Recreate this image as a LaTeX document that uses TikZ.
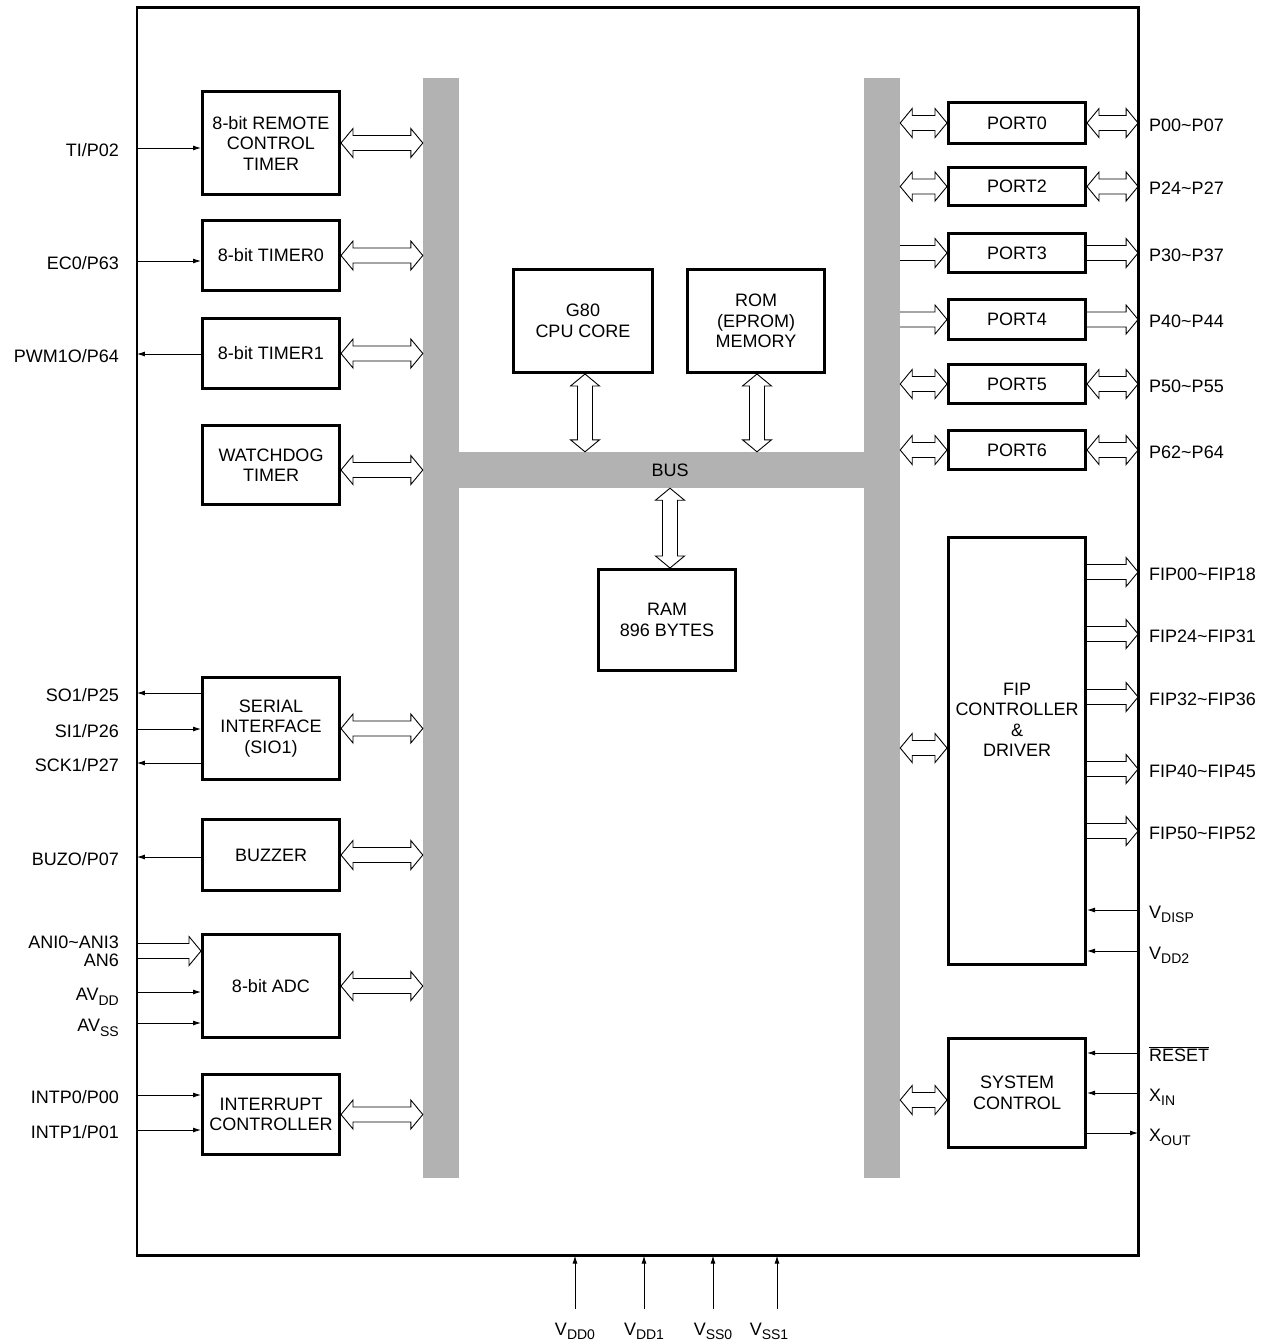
\documentclass[tikz,border=0pt]{standalone}
\usepackage{fontspec}
\setmainfont{Liberation Sans}
\usetikzlibrary{calc,arrows.meta}
\definecolor{busgray}{RGB}{178,178,178}
\newcommand\lowtxt[1]{\raisebox{-0.5ex}{\fontsize{14}{14}\selectfont #1}}

\begin{document}
\begin{tikzpicture}[x=1pt,y=-1pt,line join=miter,
	every node/.style={font=\fontsize{18}{20.5}\selectfont},
	blk/.style={draw,line width=2.7pt,align=center,inner sep=0pt,minimum width=137.3pt},
	busbar/.style={fill=busgray,inner sep=0pt},
	sig/.style={line width=0.9pt,-{Latex[length=8pt,width=5pt]}},
	lpin/.style={anchor=east,inner sep=0pt,text height=17pt,text depth=0pt},
	rpin/.style={anchor=west,inner sep=0pt,text height=16pt,text depth=0pt},
	bpin/.style={anchor=north,inner sep=0pt,text height=26pt,text depth=0pt},
	hdbl/.style={line width=0.9pt,to path={let \p1=(\tikztostart),\p2=(\tikztotarget) in
		(\x1,\y1) -- (\x1+12pt,\y1+14.5pt) -- (\x1+12pt,\y1+7.5pt) -- (\x2-12pt,\y1+7.5pt) -- (\x2-12pt,\y1+14.5pt)
		-- (\x2,\y1) -- (\x2-12pt,\y1-14.5pt) -- (\x2-12pt,\y1-7.5pt) -- (\x1+12pt,\y1-7.5pt) -- (\x1+12pt,\y1-14.5pt) -- cycle}},
	hsgl/.style={line width=0.9pt,to path={let \p1=(\tikztostart),\p2=(\tikztotarget) in
		(\x1,\y1+7.5pt) -- (\x2-12pt,\y1+7.5pt) -- (\x2-12pt,\y1+14.5pt) -- (\x2,\y1)
		-- (\x2-12pt,\y1-14.5pt) -- (\x2-12pt,\y1-7.5pt) -- (\x1,\y1-7.5pt)}},
	vdbl/.style={line width=0.9pt,to path={let \p1=(\tikztostart),\p2=(\tikztotarget) in
		(\x1,\y1) -- (\x1+14.5pt,\y1-12pt) -- (\x1+7.5pt,\y1-12pt) -- (\x1+7.5pt,\y2+12pt) -- (\x1+14.5pt,\y2+12pt)
		-- (\x1,\y2) -- (\x1-14.5pt,\y2+12pt) -- (\x1-7.5pt,\y2+12pt) -- (\x1-7.5pt,\y1-12pt) -- (\x1-14.5pt,\y1-12pt) -- cycle}}]
	\useasboundingbox (0,0) rectangle (1274,1344);
	% chip outline and buses
	\node[draw,line width=2.8pt,outer sep=0pt,minimum width=1001.2pt,minimum height=1248.2pt] (chip) at (637.5,631.5) {};
	\node[busbar,minimum width=36pt,minimum height=1100pt] (lbus) at (441,628) {};
	\node[busbar,minimum width=36pt,minimum height=1100pt] (rbus) at (882,628) {};
	\node[busbar,minimum width=405pt,minimum height=36pt] (hbus) at (661.5,470) {};
	\node (bustxt) at (670,470) {BUS};
	% left blocks
	\node[blk,minimum height=103.3pt] (rct) at (271,143) {8-bit REMOTE\\CONTROL\\TIMER};
	\node[blk,minimum height=70.3pt] (tmr0) at (271,255.5) {8-bit TIMER0};
	\node[blk,minimum height=70.3pt] (tmr1) at (271,353.5) {8-bit TIMER1};
	\node[blk,minimum height=79.3pt] (wdt) at (271,465) {WATCHDOG\\TIMER};
	\node[blk,minimum height=102.3pt] (sio) at (271,728.5) {SERIAL\\INTERFACE\\(SIO1)};
	\node[blk,minimum height=71.3pt] (buz) at (271,855) {BUZZER};
	\node[blk,minimum height=103.3pt] (adc) at (271,986) {8-bit ADC};
	\node[blk,minimum height=80.3pt] (intc) at (271,1114.5) {INTERRUPT\\CONTROLLER};
	\foreach \blkname in {rct,tmr0,tmr1,sio,buz,adc,intc}
		\draw[hdbl] (\blkname.east) to (\blkname.east -| lbus.west);
	\draw[hdbl] ([yshift=-5pt]wdt.east) to ([yshift=-5pt]wdt.east -| lbus.west);
	% core blocks
	\node[blk,minimum width=139.3pt,minimum height=103.3pt] (cpu) at (583,321) {G80\\CPU CORE};
	\node[blk,minimum height=103.3pt] (rom) at (756,321) {ROM\\(EPROM)\\MEMORY};
	\node[blk,minimum height=101.3pt] (ram) at (667,620) {RAM\\896 BYTES};
	\draw[vdbl] ([xshift=2pt]cpu.south) to ([xshift=2pt]cpu.south |- hbus.north);
	\draw[vdbl] ([xshift=1pt]rom.south) to ([xshift=1pt]rom.south |- hbus.north);
	\draw[vdbl] ([xshift=3pt]ram.north |- hbus.south) to ([xshift=3pt]ram.north);
	% ports
	\node[blk,minimum height=41.3pt] (p0) at (1017,123) {PORT0};
	\node[blk,minimum height=38.3pt] (p2) at (1017,186.5) {PORT2};
	\node[blk,minimum height=39.3pt] (p3) at (1017,253) {PORT3};
	\node[blk,minimum height=40.3pt] (p4) at (1017,319.5) {PORT4};
	\node[blk,minimum height=39.3pt] (p5) at (1017,384) {PORT5};
	\node[blk,minimum height=39.3pt] (p6) at (1017,450) {PORT6};
	\foreach \port in {p0,p2,p5,p6}{
		\draw[hdbl] (rbus.east |- \port.west) to (\port.west);
		\draw[hdbl] (\port.east) to (\port.east -| chip.east);
	}
	\foreach \port in {p3,p4}{
		\draw[hsgl] (rbus.east |- \port.west) to (\port.west);
		\draw[hsgl] (\port.east) to (\port.east -| chip.east);
	}
	\node[rpin] (pp0) at (1149,123) {P00\textasciitilde P07};
	\node[rpin] (pp2) at (1149,186.5) {P24\textasciitilde P27};
	\node[rpin] (pp3) at (1149,253) {P30\textasciitilde P37};
	\node[rpin] (pp4) at (1149,319.5) {P40\textasciitilde P44};
	\node[rpin] (pp5) at (1149,384) {P50\textasciitilde P55};
	\node[rpin] (pp6) at (1149,450) {P62\textasciitilde P64};
	% fip controller and system control
	\node[blk,minimum height=427.3pt] (fip) at (1017,751) {};
	\node[align=center,inner sep=0pt] (fiptxt) at (1017,720) {FIP\\CONTROLLER\\\&\\DRIVER};
	\node[blk,minimum height=109.3pt] (sys) at (1017,1093) {SYSTEM\\CONTROL};
	\draw[hdbl] ([yshift=3pt]rbus.east |- fip.west) to ([yshift=3pt]fip.west);
	\draw[hdbl] ([yshift=-7pt]rbus.east |- sys.west) to ([yshift=-7pt]sys.west);
	\node[rpin] (f00) at (1149,572) {FIP00\textasciitilde FIP18};
	\node[rpin] (f24) at (1149,634) {FIP24\textasciitilde FIP31};
	\node[rpin] (f32) at (1149,697) {FIP32\textasciitilde FIP36};
	\node[rpin] (f40) at (1149,769) {FIP40\textasciitilde FIP45};
	\node[rpin] (f50) at (1149,831) {FIP50\textasciitilde FIP52};
	\foreach \fpin in {f00,f24,f32,f40,f50}
		\draw[hsgl] (fip.east |- \fpin.west) to (\fpin.west -| chip.east);
	\node[rpin] (vdsp) at (1149,910) {V\lowtxt{DISP}};
	\node[rpin] (vdd2) at (1149,951) {V\lowtxt{DD2}};
	\node[rpin] (rst) at (1149,1053) {$\overline{\mbox{RESET}}$};
	\node[rpin] (xin) at (1149,1093) {X\lowtxt{IN}};
	\node[rpin] (xout) at (1149,1133) {X\lowtxt{OUT}};
	\foreach \sname/\bname in {vdsp/fip,vdd2/fip,rst/sys,xin/sys}
		\draw[sig] (\sname.west -| chip.east) -- (\sname.west -| \bname.east);
	\draw[sig] (xout.west -| sys.east) -- (xout.west -| chip.east);
	% left pins
	\node[lpin] (tip) at (119,148) {TI/P02};
	\node[lpin] (ecp) at (119,261) {EC0/P63};
	\node[lpin] (pwm) at (119,354) {PWM1O/P64};
	\node[lpin] (sop) at (119,693) {SO1/P25};
	\node[lpin] (sip) at (119,729) {SI1/P26};
	\node[lpin] (sck) at (119,763) {SCK1/P27};
	\node[lpin] (bzo) at (119,857) {BUZO/P07};
	\node[align=right,anchor=east,inner sep=0pt,font=\fontsize{18}{18}\selectfont] (ani) at (119,951) {ANI0\textasciitilde ANI3\\AN6};
	\node[lpin] (avdd) at (119,992) {AV\lowtxt{DD}};
	\node[lpin] (avss) at (119,1023) {AV\lowtxt{SS}};
	\node[lpin] (int0) at (119,1095) {INTP0/P00};
	\node[lpin] (int1) at (119,1130) {INTP1/P01};
	\foreach \sname/\bname in {tip/rct,ecp/tmr0,sip/sio,avdd/adc,avss/adc,int0/intc,int1/intc}
		\draw[sig] (\sname.east -| chip.west) -- (\sname.east -| \bname.west);
	\foreach \sname/\bname in {pwm/tmr1,sop/sio,sck/sio,bzo/buz}
		\draw[sig] (\sname.east -| \bname.west) -- (\sname.east -| chip.west);
	\draw[hsgl] (ani.east -| chip.west) to (ani.east -| adc.west);
	% power pins
	\node[bpin] (vdd0) at (575,1309) {V\lowtxt{DD0}};
	\node[bpin] (vdd1) at (644,1309) {V\lowtxt{DD1}};
	\node[bpin] (vss0) at (713,1309) {V\lowtxt{SS0}};
	\node[bpin] (vss1) at (769,1309) {V\lowtxt{SS1}};
	\foreach \vname in {vdd0,vdd1,vss0}
		\draw[sig] (\vname.north) -- (\vname.north |- chip.south);
	\draw[sig] ([xshift=8pt]vss1.north) -- ([xshift=8pt]vss1.north |- chip.south);
\end{tikzpicture}
\end{document}
